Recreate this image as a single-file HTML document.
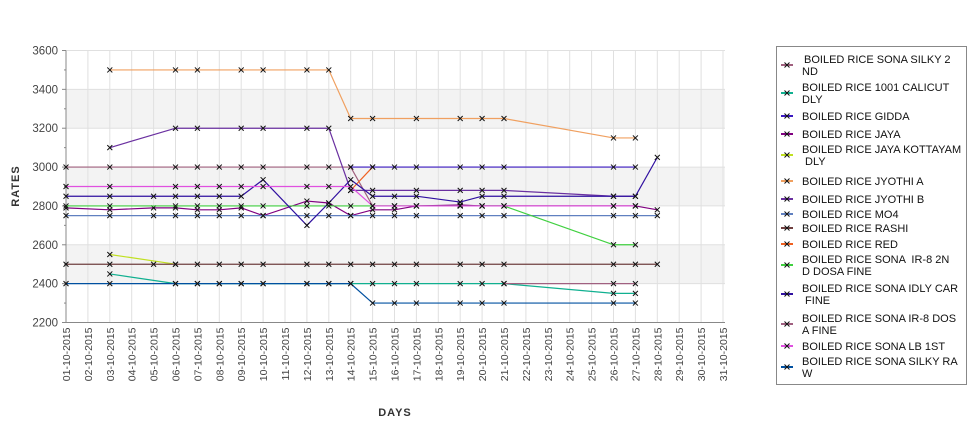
<!DOCTYPE html>
<html><head><meta charset="utf-8"><style>
body{margin:0;background:#fff;font-family:"Liberation Sans","DejaVu Sans",sans-serif}
</style></head><body>
<svg id="c" width="975" height="429" xmlns="http://www.w3.org/2000/svg"></svg>
<script>
const dayLabels = Array.from({length:31},(_,i)=>String(i+1).padStart(2,'0')+'-10-2015');
const yTicks = [2200,2400,2600,2800,3000,3200,3400,3600];
const seriesNames = ["BOILED RICE SONA SILKY 2ND","BOILED RICE 1001 CALICUT DLY","BOILED RICE GIDDA","BOILED RICE JAYA","BOILED RICE JAYA KOTTAYAM DLY","BOILED RICE JYOTHI A","BOILED RICE JYOTHI B","BOILED RICE MO4","BOILED RICE RASHI","BOILED RICE RED","BOILED RICE SONA IR-8 2ND DOSA FINE","BOILED RICE SONA IDLY CAR FINE","BOILED RICE SONA IR-8 DOSA FINE","BOILED RICE SONA LB 1ST","BOILED RICE SONA SILKY RAW"];
const seriesColors = ["#a0607e","#10b090","#3a18c0","#800080","#c0e020","#f0a060","#6a30a0","#6080c0","#704040","#f06020","#40d040","#3010a0","#a06080","#e050e0","#0050a0"];
const seriesDays = [
 [1,3,6,7,8,9,10,12,13,14,15,16,17,19,20,21,26,27],
 [3,6,7,8,9,10,12,13,14,15,16,17,19,20,21,26,27],
 [14,15,16,17,19,20,21,26,27],
 [1,3,5,6,7,8,9,10,12,13,14,15,16,17,19,20,21,26,27,28],
 [3,6],
 [3,6,7,9,10,12,13,14,15,17,19,20,21,26,27],
 [3,6,7,9,10,12,13,14,15,17,19,20,21,26,27],
 [1,3,5,6,7,8,9,10,12,13,14,15,16,17,19,20,21,26,27,28],
 [1,3,5,6,7,8,9,10,12,13,14,15,16,17,19,20,21,26,27,28],
 [14,15],
 [1,3,6,7,8,9,10,12,13,14,15,16,17,19,20,21,26,27],
 [1,3,5,6,7,8,9,10,12,13,14,15,16,17,19,20,21,26,27,28],
 [21,26,27],
 [1,3,6,7,8,9,10,12,13,14,15,16,17,19,20,21,26,27],
 [1,3,6,7,8,9,10,12,13,14,15,16,17,19,20,21,26,27]
];
const seriesValues = [
 [3000,3000,3000,3000,3000,3000,3000,3000,3000,3000,2800,2800,2800,2800,2800,2800,2800,2800],
 [2450,2400,2400,2400,2400,2400,2400,2400,2400,2400,2400,2400,2400,2400,2400,2350,2350],
 [3000,3000,3000,3000,3000,3000,3000,3000,3000],
 [2790,2780,2790,2790,2780,2780,2790,2750,2825,2815,2750,2780,2780,2800,2805,2800,2800,2800,2800,2780],
 [2550,2500],
 [3500,3500,3500,3500,3500,3500,3500,3250,3250,3250,3250,3250,3250,3150,3150],
 [3100,3200,3200,3200,3200,3200,3200,2880,2880,2880,2880,2880,2880,2850,2850],
 [2750,2750,2750,2750,2750,2750,2750,2750,2750,2750,2750,2750,2750,2750,2750,2750,2750,2750,2750,2750],
 [2500,2500,2500,2500,2500,2500,2500,2500,2500,2500,2500,2500,2500,2500,2500,2500,2500,2500,2500,2500],
 [2880,3000],
 [2800,2800,2800,2800,2800,2800,2800,2800,2800,2800,2800,2800,2800,2800,2800,2800,2600,2600],
 [2850,2850,2850,2850,2850,2850,2850,2935,2700,2815,2935,2850,2850,2850,2820,2850,2850,2850,2850,3050],
 [2400,2400,2400],
 [2900,2900,2900,2900,2900,2900,2900,2900,2900,2900,2800,2800,2800,2800,2800,2800,2800,2800],
 [2400,2400,2400,2400,2400,2400,2400,2400,2400,2400,2300,2300,2300,2300,2300,2300,2300,2300]
];
const NS='http://www.w3.org/2000/svg';
const svg=document.getElementById('c');
const L=66,R=725,T=50.5,B=322.5;
const xs=d=>L+(d-1)*(R-L-2)/30;
const ys=v=>B-(v-2200)/1400*(B-T);
function mk(tag,attrs,parent){const e=document.createElementNS(NS,tag);for(const k in attrs)e.setAttribute(k,attrs[k]);(parent||svg).appendChild(e);return e;}
for(let i=0;i<yTicks.length-1;i++){
 if(i%2===1){const r=mk('rect',{x:L,y:ys(yTicks[i+1]),width:R-L,height:ys(yTicks[i])-ys(yTicks[i+1]),fill:'#f3f3f3'});
 
 }
}
dayLabels.forEach((lab,i)=>{const x=xs(i+1);
 const g=mk('line',{x1:x,x2:x,y1:T,y2:B,stroke:'#e0e0e0','stroke-width':1});
 
 
 const t=mk('text',{x:0,y:0,transform:`translate(${x+4},${B+5}) rotate(-90)`,'text-anchor':'end','font-size':'10.5',fill:'#444'});
 t.textContent=lab;
 
 
});
yTicks.forEach(v=>{const y=ys(v);
 const g=mk('line',{x1:L,x2:R,y1:y,y2:y,stroke:'#e0e0e0'});
 
 
 mk('line',{x1:L-4,x2:L,y1:y,y2:y,stroke:'#888'});
 const t=mk('text',{x:L-8,y:y+4,'text-anchor':'end','font-size':'11.5',fill:'#444'});
 t.textContent=v;
 
 
});
for(let v=2300;v<3600;v+=200){mk('line',{x1:L-2,x2:L,y1:ys(v),y2:ys(v),stroke:'#888'});}
mk('line',{x1:L,x2:L,y1:T,y2:B,stroke:'#888'});
mk('line',{x1:L,x2:R,y1:B,y2:B,stroke:'#888'});
const yt=mk('text',{transform:'translate(19,186) rotate(-90)','text-anchor':'middle','font-size':'11','font-weight':'bold',fill:'#333','letter-spacing':'1'});
yt.textContent='RATES';


const xt=mk('text',{x:395,y:416,'text-anchor':'middle','font-size':'11','font-weight':'bold',fill:'#333','letter-spacing':'1'});
xt.textContent='DAYS';


function cross(x,y,p,c){mk('path',{d:`M${x-2.5},${y-2.5}L${x+2.5},${y+2.5}M${x-2.5},${y+2.5}L${x+2.5},${y-2.5}`,stroke:c,'stroke-width':1},p);}
seriesNames.forEach((n,s)=>{
 const g=mk('g',{});
 
 
 const pts=seriesDays[s].map((d,i)=>[xs(d),ys(seriesValues[s][i])]);
 mk('polyline',{points:pts.map(p=>p.join(',')).join(' '),fill:'none',stroke:seriesColors[s],'stroke-width':1.2},g);
 pts.forEach(p=>cross(p[0],p[1],g,'#111'));
});
const lg=mk('g',{});


mk('rect',{x:776.5,y:46.5,width:190,height:338,fill:'#fff',stroke:'#888'},lg);
const legendLines=[["BOILED RICE SONA SILKY 2","ND"],["BOILED RICE 1001 CALICUT","DLY"],["BOILED RICE GIDDA"],["BOILED RICE JAYA"],["BOILED RICE JAYA KOTTAYAM"," DLY"],["BOILED RICE JYOTHI A"],["BOILED RICE JYOTHI B"],["BOILED RICE MO4"],["BOILED RICE RASHI"],["BOILED RICE RED"],["BOILED RICE SONA  IR-8 2N","D DOSA FINE"],["BOILED RICE SONA IDLY CAR"," FINE"],["BOILED RICE SONA IR-8 DOS","A FINE"],["BOILED RICE SONA LB 1ST"],["BOILED RICE SONA SILKY RA","W"]];
const legendY=[65,93,116,134,155,181,199,214,228,244,265,294,324,346,367];
legendLines.forEach((ls,i)=>{
 const e=mk('g',{},lg);
 
 
 const y=legendY[i];
 mk('line',{x1:781,x2:793,y1:y,y2:y,stroke:seriesColors[i],'stroke-width':2},e);
 cross(787,y,e,'#111');
 ls.forEach((t,j)=>{const tx=mk('text',{x:i===0&&j===0?804:802,y:y+4+(ls.length===2?(j===0?-6:6):0),'font-size':'11',fill:'#111'},e);
  tx.setAttribute('style','white-space:pre');
  tx.textContent=t;});
});
</script>
</body></html>
